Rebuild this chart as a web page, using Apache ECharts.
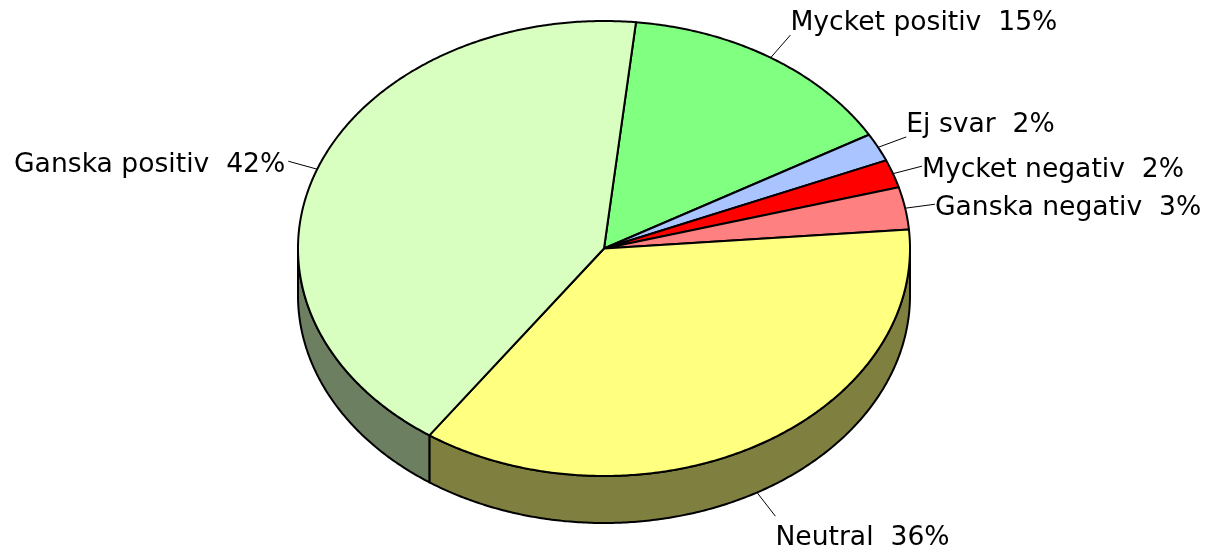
<!DOCTYPE html>
<html>
<head>
<meta charset="utf-8">
<script src="https://cdn.jsdelivr.net/npm/echarts@6/dist/echarts.min.js"></script>
<style>
  html, body { margin: 0; padding: 0; background: #ffffff; }
  #chart { width: 1210px; height: 551px; }
</style>
</head>
<body>
<div id="chart"></div>
<script>
// ---- Data ----
const categories = ['Mycket positiv', 'Ej svar', 'Mycket negativ', 'Ganska negativ', 'Neutral', 'Ganska positiv'];
const values = [15, 2, 2, 3, 36, 42];
const topColors = ['#80FF80', '#A9C4FF', '#FF0000', '#FF8080', '#FFFF80', '#D9FFC0'];

// ---- Layout (3D pie geometry) ----
const CX = 604, CY = 248.5, RX = 306, RY = 227.5, DEPTH = 47;
const START_ANGLE = 6;      // degrees clockwise from 12 o'clock
const LEADER = 30;
const FONT = '"DejaVu Sans", Verdana, sans-serif';
const FONT_SIZE = 26.6;

function darken(hex) {
  const n = parseInt(hex.slice(1), 16);
  const r = ((n >> 16) & 255) >> 1, g = ((n >> 8) & 255) >> 1, b = (n & 255) >> 1;
  return 'rgb(' + r + ',' + g + ',' + b + ')';
}
function pt(tDeg, dy) {
  const t = tDeg * Math.PI / 180;
  return [CX + RX * Math.sin(t), CY - RY * Math.cos(t) + (dy || 0)];
}
function arc(a, b, dy) {
  const pts = [];
  const n = Math.max(2, Math.ceil(Math.abs(b - a) / 0.5));
  for (let i = 0; i <= n; i++) pts.push(pt(a + (b - a) * i / n, dy));
  return pts;
}

const total = values.reduce((s, v) => s + v, 0);

function renderItem(params, api) {
  const idx = params.dataIndex;
  const v = api.value(0);
  let cum = 0;
  for (let i = 0; i < idx; i++) cum += values[i];
  const t0 = START_ANGLE + 360 * cum / total;
  const t1 = t0 + 360 * v / total;
  const color = topColors[idx];
  const children = [];

  // side (front half only: angles 90..270 mod 360)
  for (let k = -1; k <= 1; k++) {
    const lo = Math.max(t0, 90 + 360 * k), hi = Math.min(t1, 270 + 360 * k);
    if (hi > lo) {
      const top = arc(lo, hi, 0);
      const bot = arc(hi, lo, DEPTH);
      children.push({
        type: 'polygon', z2: 1,
        shape: { points: top.concat(bot) },
        style: { fill: darken(color), stroke: '#000', lineWidth: 2, lineJoin: 'round' }
      });
    }
  }
  // top face
  children.push({
    type: 'polygon', z2: 10,
    shape: { points: [[CX, CY]].concat(arc(t0, t1, 0)) },
    style: { fill: color, stroke: '#000', lineWidth: 2, lineJoin: 'round' }
  });

  // label + leader line (direction taken in the flattened ellipse space)
  const mid = (t0 + t1) / 2;
  const mr = mid * Math.PI / 180;
  let dx = Math.sin(mr), dyv = -Math.cos(mr) * RY / RX;
  const len = Math.hypot(dx, dyv);
  dx /= len; dyv /= len;
  const front = Math.cos(mr) < 0;
  const e = pt(mid, front ? DEPTH : 0);
  const end = [e[0] + dx * LEADER, e[1] + dyv * LEADER];
  children.push({
    type: 'line', z2: 20,
    shape: { x1: e[0], y1: e[1], x2: end[0], y2: end[1] },
    style: { stroke: '#000', lineWidth: 1 }
  });
  const alignLeft = dx >= 0;
  const yOff = dyv < -0.3 ? -12 : (dyv > 0.4 ? 22 : 4);
  const pct = Math.round(v / total * 100);
  children.push({
    type: 'text', z2: 20,
    x: end[0] + (alignLeft ? 0 : -3),
    y: end[1] + yOff,
    style: {
      text: categories[idx] + '  ' + pct + '%',
      fill: '#000',
      font: FONT_SIZE + 'px ' + FONT,
      align: alignLeft ? 'left' : 'right',
      verticalAlign: 'middle'
    }
  });

  return { type: 'group', children: children };
}

const chart = echarts.init(document.getElementById('chart'), null, { renderer: 'canvas' });
chart.setOption({
  backgroundColor: '#ffffff',
  animation: false,
  series: [{
    type: 'custom',
    coordinateSystem: 'none',
    renderItem: renderItem,
    data: values.map((v, i) => ({ name: categories[i], value: [v, i] }))
  }]
});
</script>
</body>
</html>
